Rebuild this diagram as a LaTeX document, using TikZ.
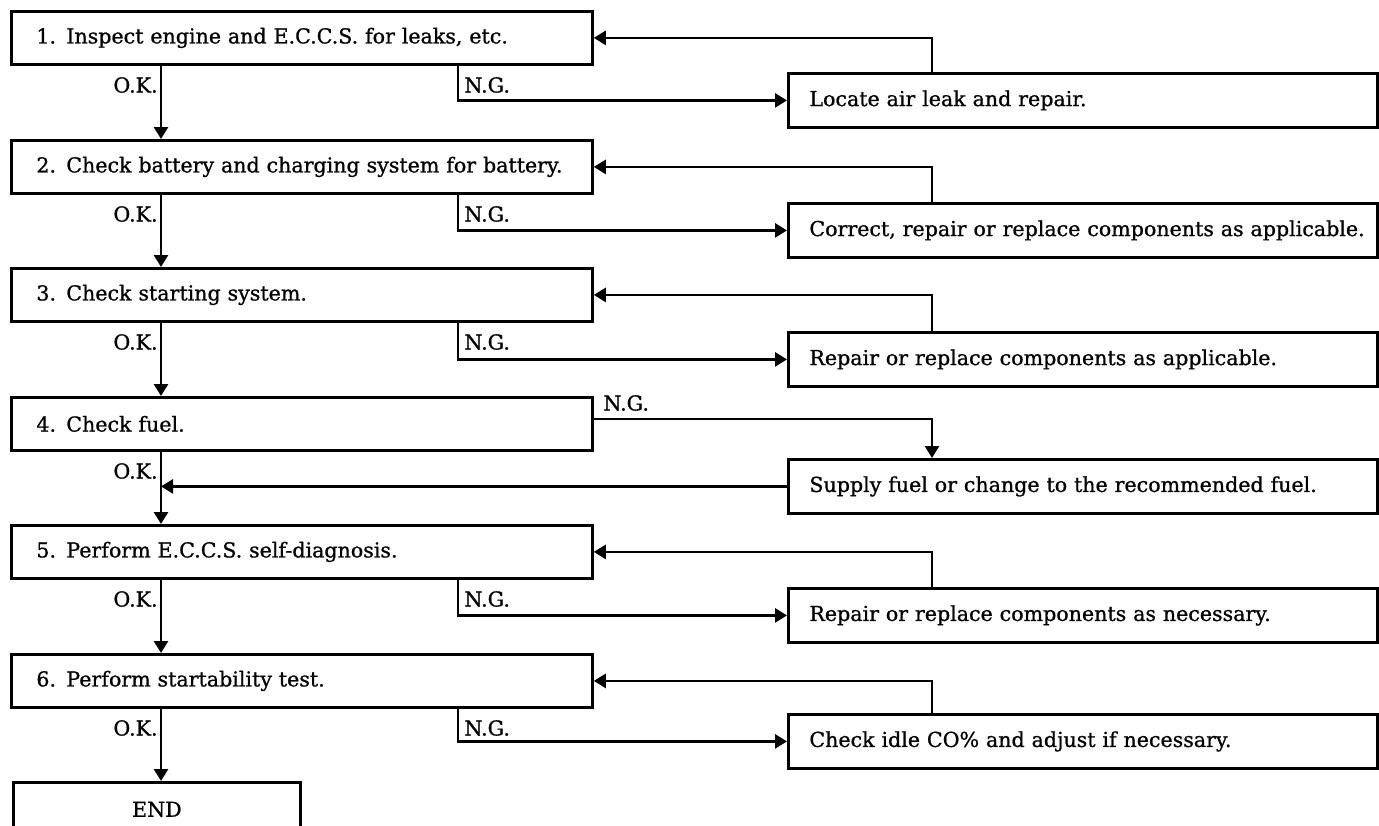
\documentclass[tikz,border=0pt]{standalone}
\usepackage{fontspec}
\setmainfont{DejaVu Serif}[FakeBold=0.9]
\usetikzlibrary{arrows.meta}
\begin{document}
\begin{tikzpicture}[x=0.5pt,y=-0.5pt,
  txt/.style={font=\fontsize{10.3}{12.5}\selectfont},
  boxed/.style={txt, draw, line width=1.4pt, anchor=north west, inner ysep=0pt,
    inner xsep=3pt, align=left},
  stepbox/.style={boxed, minimum height=26.5pt, text width=284.5pt,
    execute at begin node={\noindent\hspace*{9.5pt}}},
  fixbox/.style={boxed, minimum height=27pt, text width=288.5pt,
    execute at begin node={\noindent\hspace*{7.5pt}}},
  endbox/.style={txt, draw, line width=1.4pt, anchor=north west, minimum height=27pt,
    minimum width=143.5pt, align=center},
  lbl/.style={txt, inner sep=0pt},
  flow/.style={line width=1.3pt, -{Triangle[length=6pt,width=7pt]}}
]
\useasboundingbox (0,0) rectangle (1379,825);
\clip (0,0) rectangle (1379,825);

% guide columns for the vertical runs
\coordinate (okx) at (161,0);
\coordinate (ngx) at (458,0);
\coordinate (rx)  at (932,0);

% main sequence of checks
\node[stepbox] (s1) at (10,10)  {1. Inspect engine and E.C.C.S. for leaks, etc.};
\node[stepbox] (s2) at (10,139) {2. Check battery and charging system for battery.};
\node[stepbox] (s3) at (10,267) {3. Check starting system.};
\node[stepbox] (s4) at (10,396) {4. Check fuel.};
\node[stepbox] (s5) at (10,524) {5. Perform E.C.C.S. self-diagnosis.};
\node[stepbox] (s6) at (10,653) {6. Perform startability test.};
\node[endbox]  (se) at (12,781) {END};

% corrective actions
\node[fixbox] (f1) at (787,72)  {Locate air leak and repair.};
\node[fixbox] (f2) at (787,202) {Correct, repair or replace components as applicable.};
\node[fixbox] (f3) at (787,331) {Repair or replace components as applicable.};
\node[fixbox] (f4) at (787,458) {Supply fuel or change to the recommended fuel.};
\node[fixbox] (f5) at (787,587) {Repair or replace components as necessary.};
\node[fixbox] (f6) at (787,713) {Check idle CO\% and adjust if necessary.};

% O.K. path
\draw[flow] (s1.south -| okx) -- (s2.north -| okx);
\draw[flow] (s2.south -| okx) -- (s3.north -| okx);
\draw[flow] (s3.south -| okx) -- (s4.north -| okx);
\draw[flow] (s4.south -| okx) -- (s5.north -| okx);
\draw[flow] (s5.south -| okx) -- (s6.north -| okx);
\draw[flow] (s6.south -| okx) -- (se.north -| okx);

\node[lbl, anchor=east] (ok1) at (158,85)  {O.K.};
\node[lbl, anchor=east] (ok2) at (158,214) {O.K.};
\node[lbl, anchor=east] (ok3) at (158,342) {O.K.};
\node[lbl, anchor=east] (ok4) at (158,471) {O.K.};
\node[lbl, anchor=east] (ok5) at (158,599) {O.K.};
\node[lbl, anchor=east] (ok6) at (158,728) {O.K.};

% N.G. branches and returns
\foreach \i in {1,2,3,5,6}{
  \draw[flow] (s\i.south -| ngx) |- (f\i.west);
  \draw[flow] (f\i.north -| rx) |- (s\i.east);
}
\node[lbl, anchor=west] (ng1) at (464,85)  {N.G.};
\node[lbl, anchor=west] (ng2) at (464,214) {N.G.};
\node[lbl, anchor=west] (ng3) at (464,342) {N.G.};
\node[lbl, anchor=west] (ng5) at (464,599) {N.G.};
\node[lbl, anchor=west] (ng6) at (464,728) {N.G.};

% fuel check branches off its right side
\draw[flow] ([yshift=2.5pt]s4.east) -| (f4.north -| rx);
\draw[flow] (f4.west) -- (f4.west -| okx);
\node[lbl, anchor=west] (ng4) at (603,403) {N.G.};
\end{tikzpicture}
\end{document}
